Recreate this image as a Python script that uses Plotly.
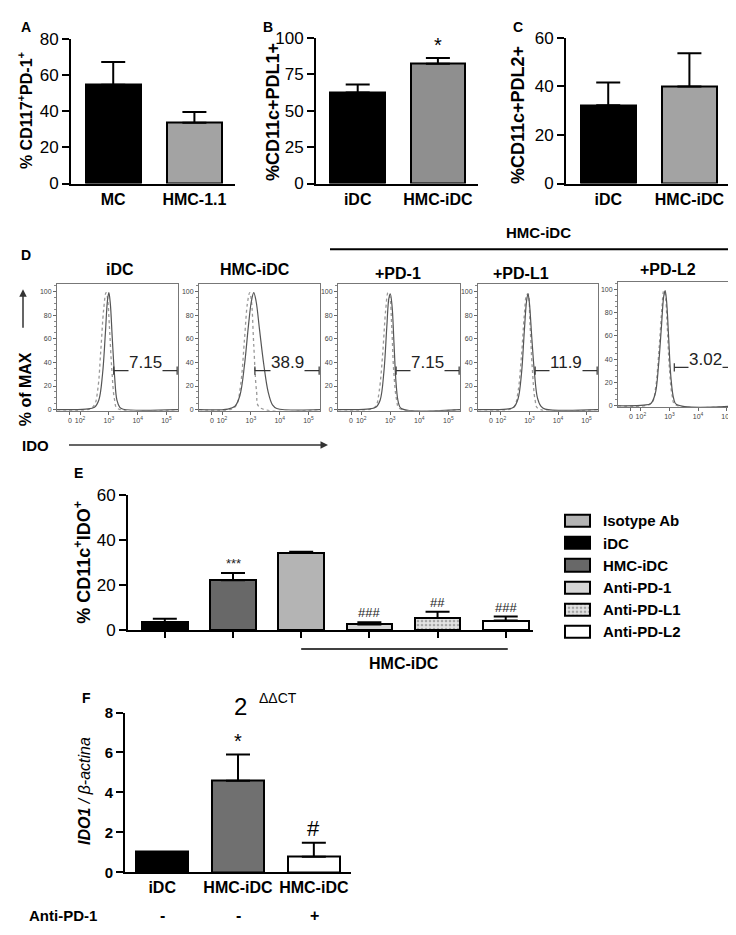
import plotly.graph_objects as go

W, H = 736, 935
FONT = "Liberation Sans, Arial, sans-serif"

# ---- panel A
a_groups = ["MC", "HMC-1.1"]
a_mean = [54.5, 33.5]
a_err = [12.5, 6.0]
a_colors = ["#000000", "#a3a3a3"]

# ---- panel B
b_groups = ["iDC", "HMC-iDC"]
b_mean = [62.4, 82.0]
b_err = [5.4, 4.0]
b_colors = ["#000000", "#8f8f8f"]

# ---- panel C
c_groups = ["iDC", "HMC-iDC"]
c_mean = [32.2, 39.9]
c_err = [9.3, 13.7]
c_colors = ["#000000", "#a3a3a3"]

# ---- panel D (flow histograms, x in decade units of the display axis)
hist_titles = ["iDC", "HMC-iDC", "+PD-1", "+PD-L1", "+PD-L2"]
gate_values = ["7.15", "38.9", "7.15", "11.9", "3.02"]
gate_start = [3.17, 3.14, 3.2, 3.2, 3.17]
hist_tickvals = [1.65, 2, 3, 4, 5]
hist_ticktext = ["0", "10<sup>2</sup>", "10<sup>3</sup>", "10<sup>4</sup>", "10<sup>5</sup>"]
solid_x = [
    [1.2, 2.2, 2.5, 2.65, 2.78, 2.88, 2.95, 3.0, 3.05, 3.12, 3.2, 3.28, 3.38, 3.5, 5.4],
    [1.2, 2.2, 2.45, 2.62, 2.78, 2.92, 3.02, 3.1, 3.18, 3.3, 3.45, 3.6, 3.75, 3.9, 5.4],
    [1.2, 2.2, 2.5, 2.65, 2.78, 2.88, 2.95, 3.0, 3.06, 3.13, 3.2, 3.28, 3.38, 5.4],
    [1.2, 2.2, 2.45, 2.6, 2.72, 2.82, 2.9, 2.95, 3.0, 3.08, 3.18, 3.28, 3.4, 3.55, 5.4],
    [1.2, 2.1, 2.35, 2.5, 2.62, 2.72, 2.8, 2.85, 2.9, 2.97, 3.05, 3.15, 3.25, 5.4],
]
solid_y = [
    [0, 0.5, 2, 8, 30, 65, 92, 99, 90, 60, 28, 8, 2, 0.3, 0],
    [0, 0.5, 3, 12, 38, 72, 92, 99, 92, 68, 38, 15, 4, 1, 0],
    [0, 0.5, 2, 8, 32, 70, 94, 98, 88, 55, 22, 6, 1, 0],
    [0, 0.5, 2, 9, 30, 66, 92, 98, 90, 62, 30, 10, 3, 0.5, 0],
    [0, 0.5, 2, 10, 35, 68, 94, 99, 90, 60, 25, 6, 1, 0],
]
iso_x = [
    [1.2, 2.3, 2.5, 2.62, 2.72, 2.82, 2.9, 2.95, 3.02, 3.1, 3.2, 3.3, 5.4],
    [1.2, 2.3, 2.5, 2.65, 2.78, 2.88, 2.96, 3.02, 3.1, 3.2, 3.3, 5.4],
    [1.2, 2.3, 2.5, 2.62, 2.74, 2.84, 2.92, 2.98, 3.05, 3.12, 3.22, 3.32, 5.4],
    [1.2, 2.3, 2.48, 2.6, 2.72, 2.82, 2.9, 2.95, 3.02, 3.1, 3.2, 3.3, 5.4],
    [1.2, 2.2, 2.4, 2.52, 2.64, 2.74, 2.8, 2.85, 2.92, 3.0, 3.1, 3.2, 5.4],
]
iso_y = [
    [0, 0.3, 4, 18, 50, 85, 99, 95, 70, 35, 8, 1, 0],
    [0, 0.3, 4, 22, 60, 90, 99, 92, 55, 15, 2, 0],
    [0, 0.3, 3, 16, 48, 84, 99, 96, 70, 32, 8, 1, 0],
    [0, 0.3, 3, 15, 45, 80, 97, 98, 72, 35, 8, 1, 0],
    [0, 0.3, 3, 16, 50, 85, 99, 96, 70, 32, 8, 1, 0],
]

# ---- panel E
e_groups = ["iDC", "HMC-iDC", "Isotype Ab", "Anti-PD-1", "Anti-PD-L1", "Anti-PD-L2"]
e_mean = [3.5, 22.2, 34.4, 2.6, 5.4, 4.3]
e_err = [1.6, 3.2, 0.5, 1.0, 2.8, 1.8]
e_colors = ["#000000", "#686868", "#b4b4b4", "#d6d6d6", "#dcdcdc", "#ffffff"]
e_patterns = ["", "", "", "", ".", ""]
e_marks = ["", "***", "", "###", "##", "###"]
legend_order = ["Isotype Ab", "iDC", "HMC-iDC", "Anti-PD-1", "Anti-PD-L1", "Anti-PD-L2"]

# ---- panel F
f_groups = ["iDC", "HMC-iDC", "HMC-iDC"]
f_mean = [1.03, 4.58, 0.78]
f_err = [0.0, 1.32, 0.7]
f_colors = ["#000000", "#707070", "#ffffff"]
f_marks = ["", "*", "#"]
f_anti_pd1 = ["-", "-", "+"]


def xd(x0, x1):
    return [x0 / W, x1 / W]


def yd(top, bottom):
    return [1 - bottom / H, 1 - top / H]


def ax_name(n, kind):
    return f"{kind}axis" if n == 1 else f"{kind}axis{n}"


def ref(n, kind):
    return kind if n == 1 else f"{kind}{n}"


def txt(s, x, y, size=14, bold=True, angle=0, xa="center", ya="middle", italic=False, color="black"):
    return dict(
        text=s, x=x / W, y=1 - y / H, xref="paper", yref="paper", showarrow=False,
        textangle=angle, xanchor=xa, yanchor=ya,
        font=dict(family=FONT, size=size, color=color, weight=700 if bold else 400,
                  style="italic" if italic else "normal"),
    )


fig = go.Figure()
layout_axes = {}
annotations = []
shapes = []


def bar_axes(n, xdom, ydom, xrange, ymax, dtick, labels, tick_bold=False, xticks=""):
    layout_axes[ax_name(n, "x")] = dict(
        domain=xdom, anchor=ref(n, "y"), range=xrange, showgrid=False, zeroline=False,
        showline=True, linecolor="black", linewidth=2,
        tickvals=list(range(len(labels))), ticktext=labels,
        showticklabels=any(labels),
        ticks=xticks, ticklen=6, tickwidth=2, tickcolor="black",
        tickfont=dict(family=FONT, size=16, color="black", weight=700),
    )
    layout_axes[ax_name(n, "y")] = dict(
        domain=ydom, anchor=ref(n, "x"), range=[0, ymax], dtick=dtick, showgrid=False,
        zeroline=False, showline=True, linecolor="black", linewidth=2,
        ticks="outside", ticklen=7, tickwidth=2, tickcolor="black",
        tickfont=dict(family=FONT, size=17, color="black", weight=700 if tick_bold else 400),
    )


def add_bars(n, means, errs, colors, width, patterns=None):
    for i, (m, e, c) in enumerate(zip(means, errs, colors)):
        pat = dict(shape=patterns[i], fgcolor="#666666", bgcolor="#e4e4e4", size=4, solidity=0.35) \
            if patterns and patterns[i] else None
        fig.add_trace(go.Bar(
            x=[i], y=[m], width=width, xaxis=ref(n, "x"), yaxis=ref(n, "y"),
            marker=dict(color=c, line=dict(color="black", width=2), pattern=pat),
            error_y=dict(type="data", array=[e], arrayminus=[0], symmetric=False,
                         color="black", thickness=2, width=12, visible=e > 0),
            showlegend=False, hoverinfo="skip",
        ))


# A, B, C
bar_axes(1, xd(63, 227), yd(22, 170), [-0.52, 1.5], 80, 20, a_groups)
add_bars(1, a_mean, a_err, a_colors, 0.68)
bar_axes(2, xd(308, 470), yd(21, 170), [-0.52, 1.5], 100, 25, b_groups)
add_bars(2, b_mean, b_err, b_colors, 0.68)
bar_axes(3, xd(558, 722), yd(21, 170), [-0.52, 1.5], 60, 20, c_groups)
add_bars(3, c_mean, c_err, c_colors, 0.68)

annotations += [
    txt("A", 18, 10, 14), txt("B", 260, 10, 14), txt("C", 510, 10, 14),
    txt("% CD117<sup>+</sup>PD-1<sup>+</sup>", 17, 95, 16, angle=-90),
    txt("%CD11c+PDL1+", 265, 97, 18, angle=-90),
    txt("%CD11c+PDL2+", 510, 100, 18, angle=-90),
]
for i, m in enumerate(["", "*", ""]):
    if m:
        annotations.append(dict(text=m, x=i, y=b_mean[i] + b_err[i], xref="x2", yref="y2",
                                yanchor="bottom", showarrow=False,
                                font=dict(family=FONT, size=20, color="black")))

# D histograms
hist_boxes = [(49, 170, 273, 402), (191, 312, 273, 402), (330, 452, 273, 402),
              (470, 590, 273, 402), (610, 730, 271, 398)]
hist_title_pos = [(112, 258), (247, 258), (390, 262), (513, 262), (660, 258)]
for k in range(5):
    n = 4 + k
    x0, x1, t, b = hist_boxes[k]
    common = dict(showgrid=False, zeroline=False, showline=True, mirror=True,
                  linecolor="#777777", linewidth=1, ticks="outside", ticklen=3,
                  tickcolor="#666666", tickfont=dict(family=FONT, size=7, color="#444444"))
    layout_axes[ax_name(n, "x")] = dict(domain=xd(x0, x1), anchor=ref(n, "y"), range=[1.2, 5.4],
                                        tickvals=hist_tickvals, ticktext=hist_ticktext, **common)
    layout_axes[ax_name(n, "y")] = dict(domain=yd(t, b), anchor=ref(n, "x"), range=[-1, 106],
                                        tickvals=[0, 20, 40, 60, 80, 100],
                                        minor=dict(ticks="outside", ticklen=2, dtick=5, tickcolor="#888888"),
                                        **common)
    fig.add_trace(go.Scatter(x=iso_x[k], y=iso_y[k], mode="lines", line_shape="spline",
                             line=dict(color="#999999", width=1.3, dash="dot"),
                             xaxis=ref(n, "x"), yaxis=ref(n, "y"), showlegend=False, hoverinfo="skip"))
    fig.add_trace(go.Scatter(x=solid_x[k], y=solid_y[k], mode="lines", line_shape="spline",
                             line=dict(color="#555555", width=1.2),
                             xaxis=ref(n, "x"), yaxis=ref(n, "y"), showlegend=False, hoverinfo="skip"))
    gs = gate_start[k]
    fig.add_trace(go.Scatter(x=[gs, gs, None, gs, 5.37, None, 5.37, 5.37],
                             y=[29.5, 36.5, None, 33, 33, None, 29.5, 36.5], mode="lines",
                             line=dict(color="#333333", width=1.2),
                             xaxis=ref(n, "x"), yaxis=ref(n, "y"), showlegend=False, hoverinfo="skip"))
    annotations.append(dict(text=gate_values[k], x=(gs + 5.37) / 2, y=31, xref=ref(n, "x"),
                            yref=ref(n, "y"), yanchor="bottom", showarrow=False,
                            bgcolor="white", borderpad=0,
                            font=dict(family=FONT, size=17, color="#222222")))
    annotations.append(txt(hist_titles[k], *hist_title_pos[k], 16))

annotations += [
    txt("D", 18, 243, 14),
    txt("HMC-iDC", 530, 220, 15),
    txt("% of MAX", 17, 380, 16, angle=-90),
    txt("IDO", 12, 437, 15, xa="left"),
    dict(x=15 / W, y=1 - 278 / H, xref="paper", yref="paper", text=" ", showarrow=True,
         ax=0, ay=47, arrowhead=2, arrowsize=1, arrowwidth=1.5, arrowcolor="#333333"),
    dict(x=320 / W, y=1 - 437 / H, xref="paper", yref="paper", text=" ", showarrow=True,
         ax=-262, ay=0, arrowhead=2, arrowsize=1, arrowwidth=1.5, arrowcolor="#333333"),
]
shapes.append(dict(type="line", xref="paper", yref="paper", x0=322 / W, x1=727 / W,
                   y0=1 - 237 / H, y1=1 - 237 / H, line=dict(color="black", width=2)))

# E
bar_axes(9, xd(120, 525), yd(488, 626), [-0.54, 5.4], 60, 20, [""] * 6, xticks="outside")
add_bars(9, e_mean, e_err, e_colors, 0.67, e_patterns)
for i, m in enumerate(e_marks):
    if m:
        annotations.append(dict(text=m, x=i, y=e_mean[i] + e_err[i], xref="x9", yref="y9",
                                yanchor="bottom", showarrow=False,
                                font=dict(family=FONT, size=13, color="#222222")))
annotations += [
    txt("E", 70, 465, 14),
    txt("% CD11c<sup>+</sup>IDO<sup>+</sup>", 75, 557, 18, angle=-90),
    txt("HMC-iDC", 396, 660, 16),
]
shapes.append(dict(type="line", xref="x9", yref="paper", x0=2, x1=5.03,
                   y0=1 - 645 / H, y1=1 - 645 / H, line=dict(color="black", width=1.5)))

# E legend built as swatch bars
layout_axes["xaxis10"] = dict(domain=xd(555, 584), anchor="y10", range=[-0.08, 1.08], visible=False)
layout_axes["yaxis10"] = dict(domain=yd(503, 639), anchor="x10", range=[5.5, -0.5], visible=False)
for j, name in enumerate(legend_order):
    i = e_groups.index(name)
    pat = dict(shape=e_patterns[i], fgcolor="#666666", bgcolor="#e4e4e4", size=4, solidity=0.35) \
        if e_patterns[i] else None
    fig.add_trace(go.Bar(x=[1], y=[j], base=[0], orientation="h", width=0.55,
                         xaxis="x10", yaxis="y10",
                         marker=dict(color=e_colors[i], line=dict(color="black", width=2), pattern=pat),
                         showlegend=False, hoverinfo="skip"))
    annotations.append(dict(text=name, x=593 / W, y=j, xref="paper", yref="y10", xanchor="left",
                            showarrow=False, font=dict(family=FONT, size=15, color="black", weight=700)))

# F
bar_axes(11, xd(117, 343), yd(710, 873), [-0.49, 2.49], 8, 2, f_groups, tick_bold=True)
layout_axes["yaxis11"]["tickfont"]["size"] = 15
add_bars(11, f_mean, f_err, f_colors, 0.68)
for i, m in enumerate(f_marks):
    if m:
        annotations.append(dict(text=m, x=i, y=f_mean[i] + f_err[i], xref="x11", yref="y11",
                                yanchor="bottom", showarrow=False,
                                font=dict(family=FONT, size=22 if m == "#" else 20, color="black")))
f_centers = [154, 231, 306]
for i, s in enumerate(f_anti_pd1):
    annotations.append(txt(s, f_centers[i], 917, 16))
annotations += [
    txt("F", 78, 695, 14),
    txt("2", 232, 704, 24, bold=False),
    txt("ΔΔCT", 270, 695, 14, bold=False),
    txt("<b>IDO1</b> / β-actina", 77, 790, 16, bold=False, italic=True, angle=-90),
    txt("Anti-PD-1", 55, 917, 15),
]

fig.update_layout(
    width=W, height=H, margin=dict(l=0, r=0, t=0, b=0),
    paper_bgcolor="white", plot_bgcolor="white", showlegend=False,
    bargap=0, annotations=annotations, shapes=shapes,
    font=dict(family=FONT, color="black"),
    **layout_axes,
)
fig.write_html("out.html")
